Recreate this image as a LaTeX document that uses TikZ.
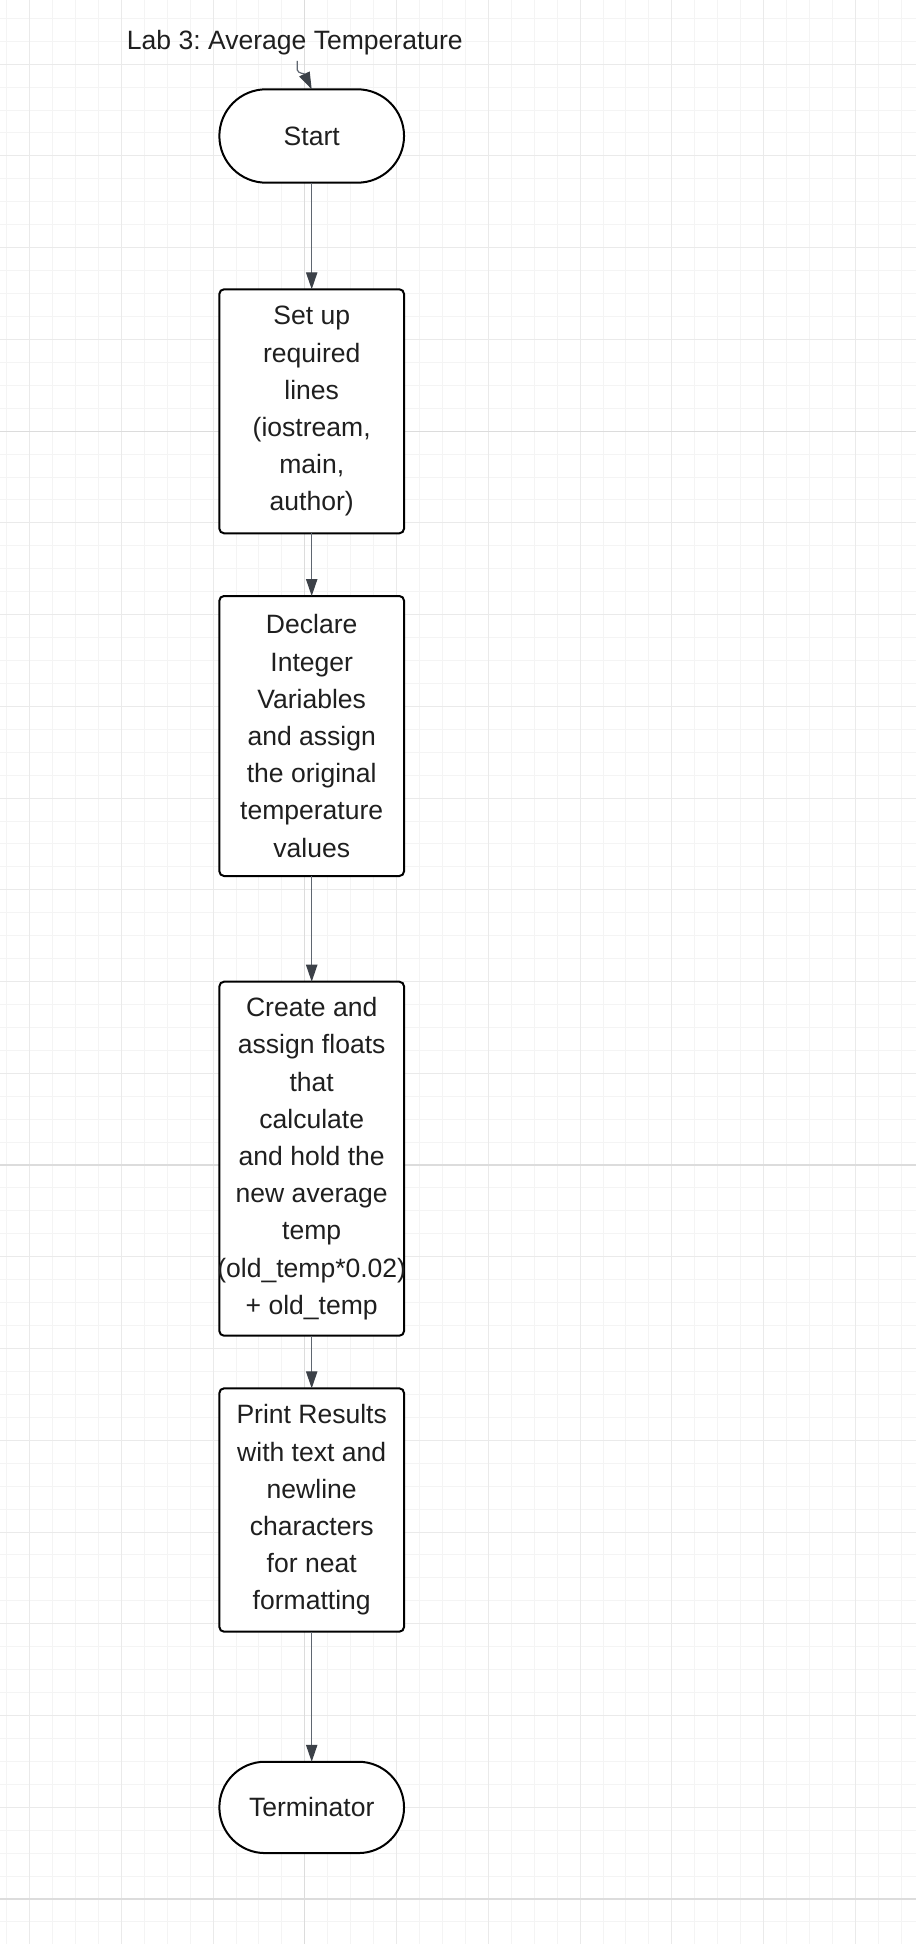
\documentclass[tikz,border=0pt]{standalone}
\usepackage{fontspec}
\setmainfont{Liberation Sans}
\usetikzlibrary{arrows.meta,shapes.misc}
\definecolor{gridminor}{HTML}{F4F4F4}
\definecolor{gridmajor}{HTML}{EAEAEA}
\definecolor{gridpage}{HTML}{DCDCDC}
\definecolor{txt}{HTML}{1F1F1F}
\definecolor{edgecol}{HTML}{5F6670}
\definecolor{tipcol}{HTML}{3C4148}
\frenchspacing
\begin{document}
\begin{tikzpicture}[x=0.75pt,y=-0.75pt,
  boxstyle/.style={draw=black, line width=1.5pt, fill=white, rounded corners=3.5pt,
    minimum width=138.5pt, inner sep=0pt, outer sep=0pt, align=center, text=txt,
    font=\fontsize{19.9pt}{27.9pt}\selectfont},
  termstyle/.style={draw=black, line width=1.5pt, fill=white, rounded rectangle,
    minimum width=138.5pt, inner sep=0pt, outer sep=0pt, align=center, text=txt,
    font=\fontsize{19.9pt}{27.9pt}\selectfont},
  conn/.style={draw=edgecol, line width=0.9pt,
    -{Triangle[length=12.75pt,width=8.5pt,color=tipcol]}},
  gminor/.style={draw=gridminor, line width=0.75pt},
  gmajor/.style={draw=gridmajor, line width=0.75pt},
  gpage/.style={draw=gridpage, line width=0.9pt},
]
\useasboundingbox (0,0) rectangle (916,1944);
\fill[white] (0,0) rectangle (916,1944);
% grid
\foreach \k in {0,...,39} {\draw[gminor] ({6.7+\k*22.935},0) -- ({6.7+\k*22.935},1944);}
\foreach \k in {0,...,83} {\draw[gminor] (0,{18.3+\k*22.935}) -- (916,{18.3+\k*22.935});}
\foreach \k in {1,5,...,37} {\draw[gmajor] ({6.7+\k*22.935},0) -- ({6.7+\k*22.935},1944);}
\foreach \k in {2,6,...,82} {\draw[gmajor] (0,{18.3+\k*22.935}) -- (916,{18.3+\k*22.935});}
\foreach \k in {13} {\draw[gpage] ({6.7+\k*22.935},0) -- ({6.7+\k*22.935},1944);}
\foreach \k in {18,50,82} {\draw[gpage] (0,{18.3+\k*22.935}) -- (916,{18.3+\k*22.935});}

% title
\node[anchor=base west, inner sep=0pt, text=txt, font=\fontsize{19.9pt}{24pt}\selectfont]
  (title) at (126.7,50) {Lab 3: Average Temperature};

% nodes
\node[termstyle, minimum height=70.05pt] (start) at (311.7,136) {Start};
\node[boxstyle, minimum height=183pt] (setup) at (311.7,411.3)
  {Set up\\required\\lines\\(iostream,\\main,\\author)};
\node[boxstyle, minimum height=210pt] (declare) at (311.7,736)
  {Declare\\Integer\\Variables\\and assign\\the original\\temperature\\values};
\node[boxstyle, minimum height=265.5pt] (create) at (311.7,1158.7)
  {Create and\\assign floats\\that\\calculate\\and hold the\\new average\\temp\\\makebox[0pt]{(old\_temp*0.02)}\\+ old\_temp};
\node[boxstyle, minimum height=182.5pt] (print) at (311.7,1510)
  {Print Results\\with text and\\newline\\characters\\for neat\\formatting};
\node[termstyle, minimum height=68.5pt] (term) at (311.7,1807.4) {Terminator};

% connectors
\coordinate (tstart) at (297.3,61);
\draw[conn] (tstart) -- (297.3,70) .. controls (298.5,74) and (304,73) .. (start.north);
\draw[conn] (start.south) -- (setup.north);
\draw[conn] (setup.south) -- (declare.north);
\draw[conn] (declare.south) -- (create.north);
\draw[conn] (create.south) -- (print.north);
\draw[conn] (print.south) -- (term.north);
\end{tikzpicture}
\end{document}
